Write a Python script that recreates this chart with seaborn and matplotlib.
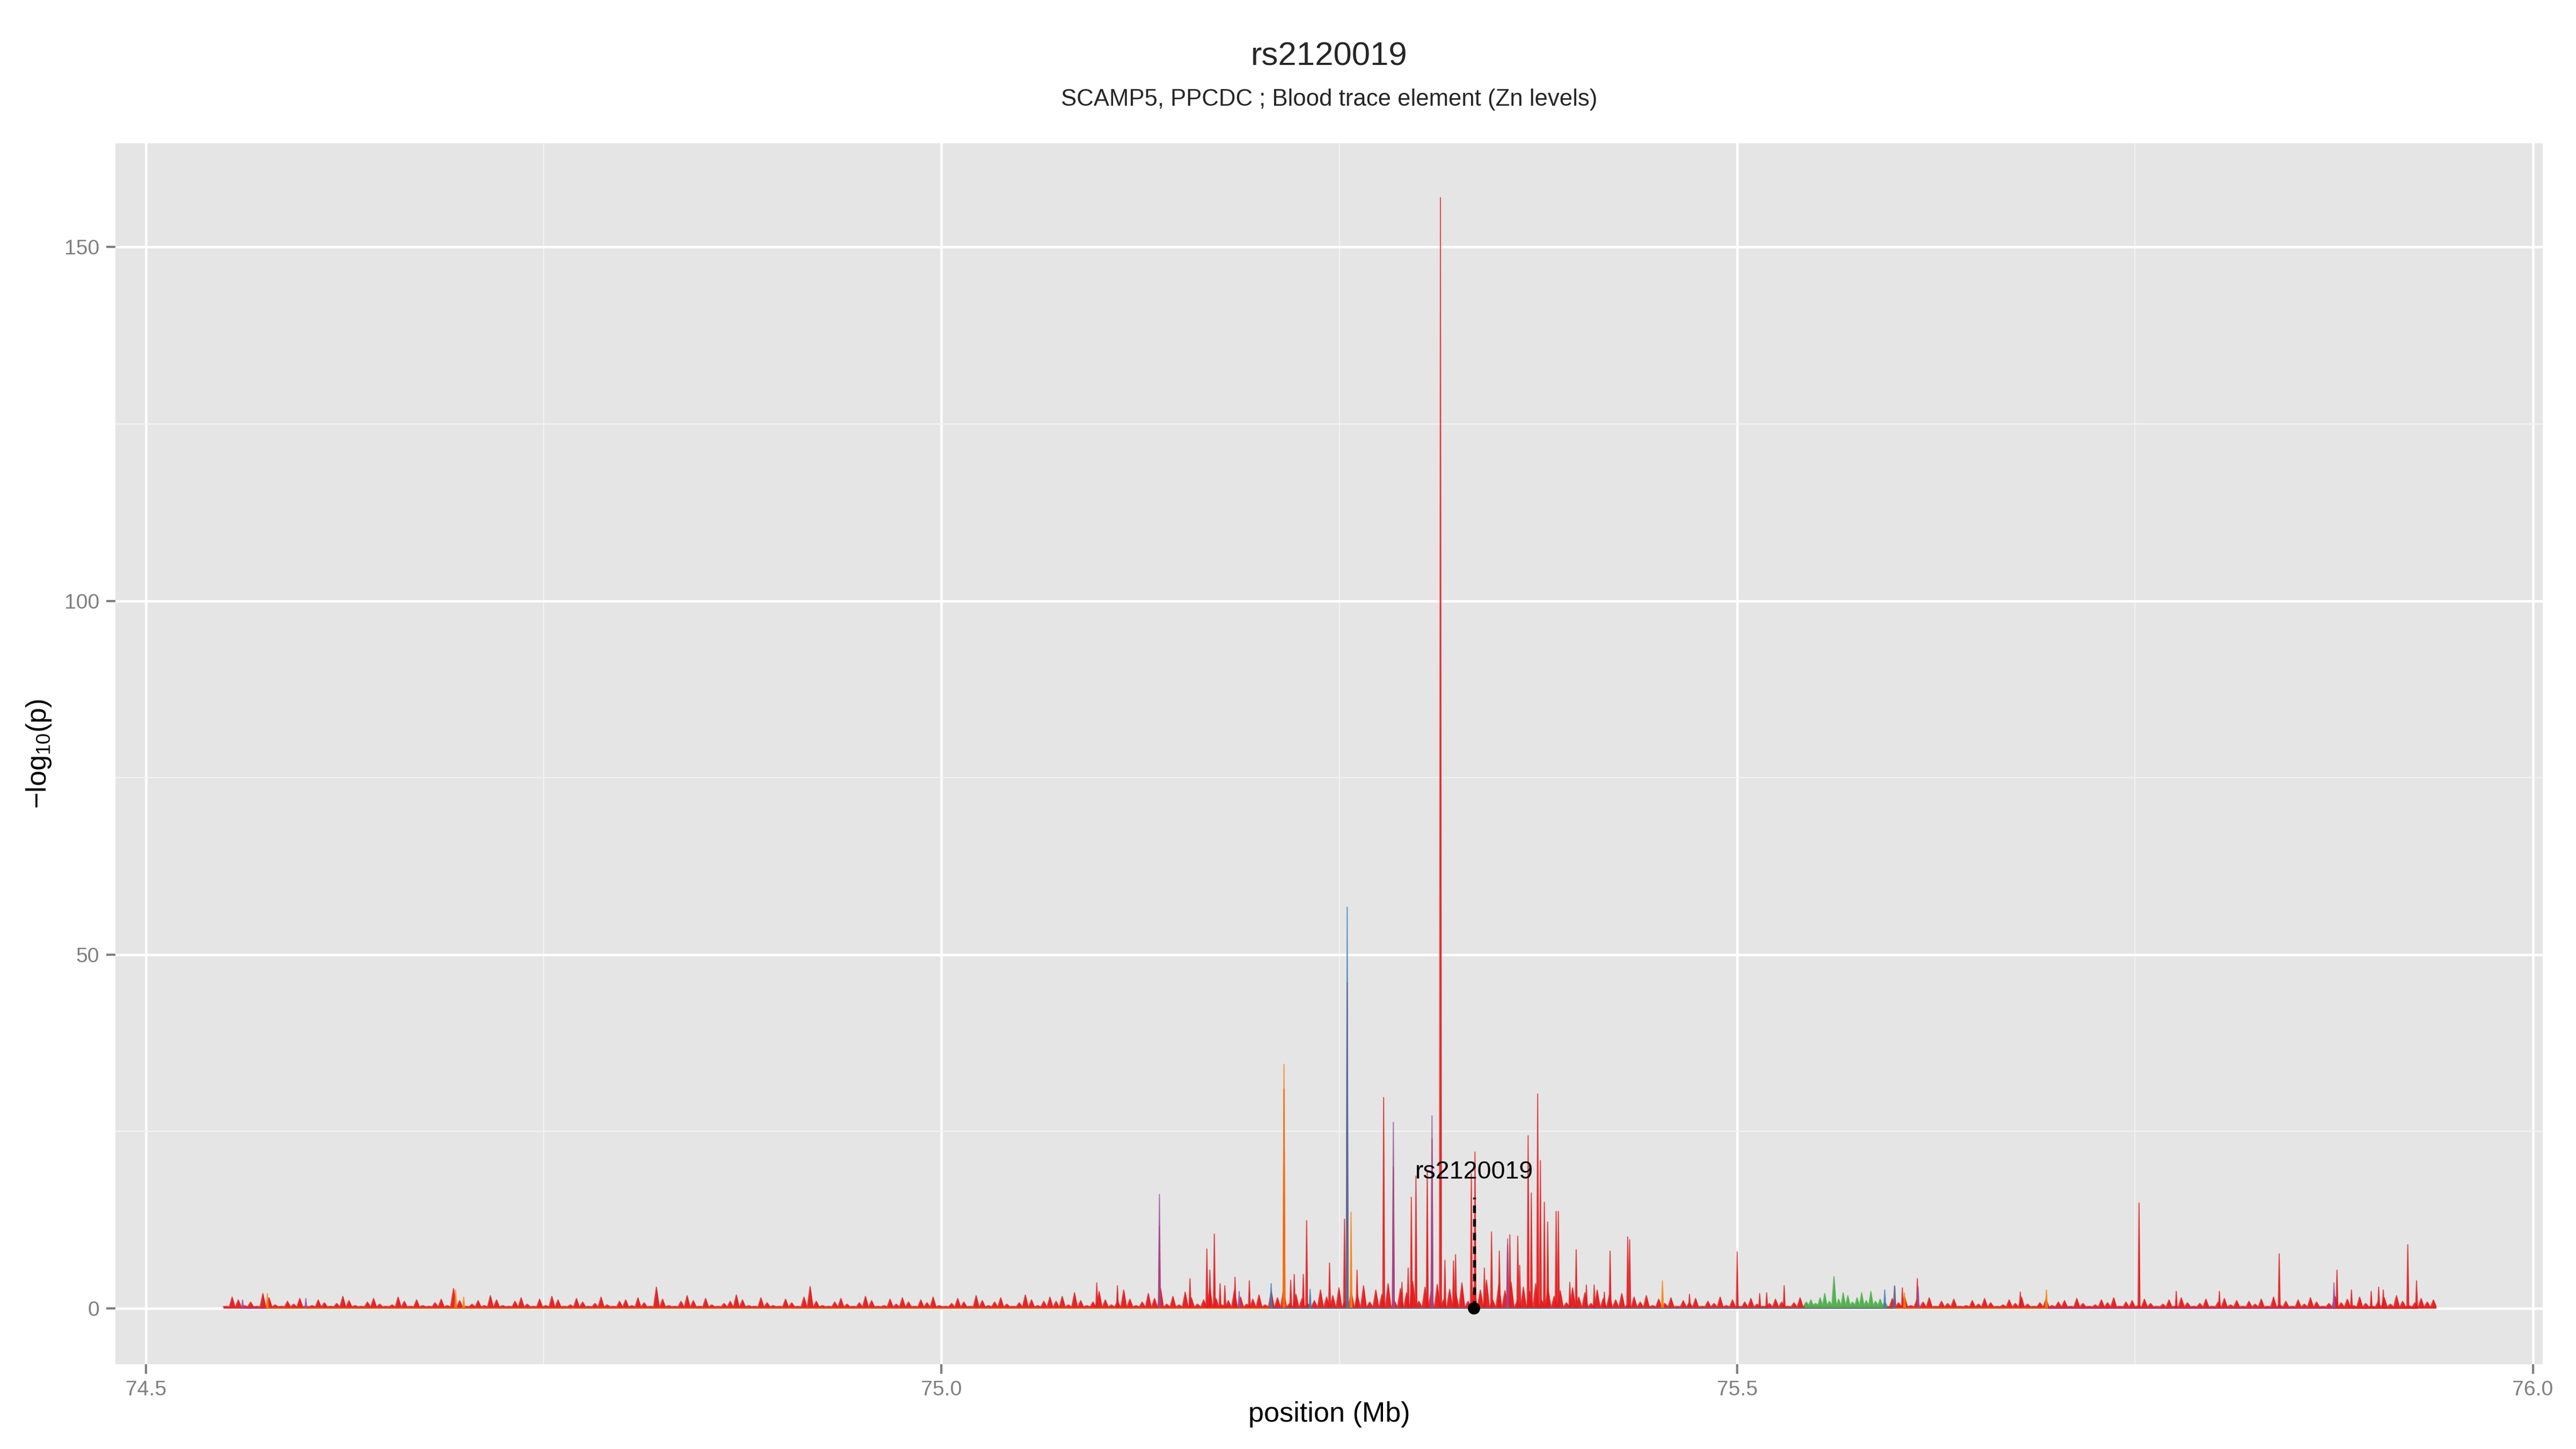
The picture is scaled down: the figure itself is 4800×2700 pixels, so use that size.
import numpy as np
import pandas as pd
import matplotlib
matplotlib.use("Agg")
import matplotlib.pyplot as plt
from matplotlib.ticker import MultipleLocator
import seaborn as sns

# ── data ─────────────────────────────────────────────────────────────────────

SNP = "rs2120019"
SNP_POS = 75.3346
SNP_LOGP = 15.7
SUBTITLE = "SCAMP5, PPCDC ; Blood trace element (Zn levels)"

# dense low-level signal of the red track (evenly spaced from start to end)
RED_BAND_START, RED_BAND_END = 74.5503, 75.9375
RED_BAND_FLOOR = 0.25
RED_BAND_LOGP = [
    0.3, 1.6, 1.2, 0.4, 0.9, 0.3, 2.1, 1.5, 0.5, 0.3, 1.0, 0.6, 1.4, 0.3, 0.4,
    1.2, 0.8, 0.3, 0.7, 1.7, 1.1, 0.4, 0.3, 0.9, 1.4, 0.6, 0.3, 0.5, 1.6, 1.0,
    0.3, 1.2, 0.4, 0.3, 0.8, 1.3, 0.4, 2.8, 1.1, 0.3, 0.6, 1.1, 0.4, 1.8, 1.2,
    0.4, 0.3, 1.0, 1.5, 0.6, 0.3, 1.3, 0.4, 1.7, 1.2, 0.3, 0.5, 1.4, 0.9, 0.3,
    0.7, 1.6, 0.5, 0.3, 1.0, 1.2, 0.4, 1.5, 0.8, 0.3, 3.0, 1.3, 0.4, 0.3, 1.0,
    1.8, 1.1, 0.3, 1.4, 0.5, 0.3, 0.7, 1.0, 1.9, 1.2, 0.4, 0.3, 1.5, 0.8, 0.4,
    0.3, 1.3, 0.8, 0.3, 1.6, 3.1, 1.0, 0.4, 0.3, 0.9, 1.4, 0.6, 0.3, 0.8, 1.7,
    1.1, 0.3, 0.4, 1.3, 0.6, 1.5, 0.9, 0.3, 1.2, 0.8, 1.6, 0.4, 0.3, 0.7, 1.4,
    0.9, 0.3, 1.8, 1.1, 0.4, 0.9, 1.5, 0.6, 0.3, 0.8, 1.9, 1.2, 0.4, 1.0, 1.6,
    1.0, 1.7, 0.5, 2.2, 1.1, 0.4, 0.9, 2.4, 1.2, 0.5, 1.0, 2.6, 1.3, 0.4, 0.9,
    2.1, 1.4, 2.8, 0.6, 1.7, 0.5, 2.3, 1.5, 0.6, 1.2, 2.9, 1.4, 0.5, 1.1, 2.5,
    1.6, 0.6, 1.3, 1.9, 0.5, 2.4, 1.5, 2.7, 0.7, 2.0, 1.4, 0.6, 1.1, 2.6, 1.6,
    1.8, 2.9, 1.0, 2.4, 1.9, 3.2, 0.9, 2.6, 2.0, 3.5, 1.1, 2.8, 2.2, 3.8, 1.0,
    3.0, 2.4, 3.4, 1.2, 2.7, 2.3, 3.6, 1.0, 3.1, 2.6, 4.0, 1.2, 3.3, 2.5, 3.7,
    1.0, 3.0, 2.4, 3.5, 1.1, 2.8, 1.7, 2.5, 0.8, 2.9, 1.6, 2.2, 0.7, 2.6, 1.4,
    1.9, 1.2, 2.1, 0.5, 1.6, 0.9, 1.8, 0.4, 1.3, 0.7, 1.5, 0.3, 1.1, 0.8, 1.4,
    0.3, 1.0, 0.7, 1.6, 0.4, 1.2, 0.3, 0.9, 1.4, 0.6, 0.3, 0.7, 1.3, 0.9, 0.3,
    0.8, 1.5, 0.6, 0.3, 0.3, 0.2, 0.3, 0.2, 0.3, 0.2, 0.3, 0.2, 0.3, 0.2, 0.3,
    0.3, 1.4, 0.8, 1.6, 0.4, 1.2, 0.9, 1.5, 0.3, 1.0, 0.7, 1.3, 0.3, 0.4, 1.1,
    0.6, 1.4, 0.8, 0.3, 0.5, 1.2, 0.7, 1.6, 0.6, 0.3, 0.8, 1.3, 0.4, 0.9, 1.1,
    0.3, 1.4, 0.7, 0.3, 0.5, 1.2, 0.8, 1.5, 0.3, 0.9, 1.1, 0.4, 1.3, 0.7, 0.3,
    0.6, 1.2, 0.3, 1.5, 0.8, 0.3, 0.7, 1.3, 0.3, 0.9, 1.4, 0.5, 1.1, 0.3, 1.0,
    0.6, 1.3, 0.3, 1.6, 0.5, 1.0, 0.3, 1.2, 0.6, 1.5, 0.9, 0.3, 0.7, 1.7, 0.8,
    1.3, 0.4, 1.6, 0.7, 0.3, 0.9, 1.5, 0.6, 1.8, 1.0, 0.4, 0.8, 1.4, 0.9, 1.2,
]

GREEN_BAND_START, GREEN_BAND_END = 75.5434, 75.5927
GREEN_BAND_FLOOR = 0.5
GREEN_BAND_LOGP = [0.9, 1.2, 0.7, 1.5, 2.1, 1.0, 4.5, 1.3, 2.2,
                   1.8, 0.9, 1.5, 2.2, 1.1, 2.4, 1.0, 1.3, 0.8]

RED_POS = [75.0975, 75.1105, 75.1369, 75.1561, 75.1667, 75.1686, 75.1714,
           75.1750, 75.1780, 75.1844, 75.1934, 75.2152, 75.2194, 75.2216,
           75.2273, 75.2294, 75.2438, 75.2532, 75.2549, 75.2611, 75.2778,
           75.2839, 75.2893, 75.2932, 75.2952, 75.2981, 75.3052, 75.3082,
           75.3135, 75.3163, 75.3217, 75.3230, 75.3329, 75.3352, 75.3411,
           75.3456, 75.3505, 75.3557, 75.3571, 75.3621, 75.3633, 75.3686,
           75.3706, 75.3746, 75.3763, 75.3788, 75.3809, 75.3862, 75.3876,
           75.3948, 75.3988, 75.4052, 75.4101, 75.4165, 75.4201, 75.4312,
           75.4324, 75.4700, 75.5000, 75.5141, 75.5185, 75.5295, 75.5990,
           75.6038, 75.6132, 75.6779, 75.7525, 75.7759, 75.8030, 75.8406,
           75.8769, 75.8860, 75.8984, 75.9031, 75.9060, 75.9214, 75.9269]
RED_LOGP = [3.6, 3.2, 11.6, 4.2, 8.4, 5.4, 10.5, 3.5, 3.2, 4.4, 3.9, 31.0,
            4.0, 4.8, 4.8, 12.4, 6.4, 12.6, 46.0, 5.4, 29.8, 20.0, 3.7, 5.7,
            15.7, 18.7, 19.4, 24.0, 157.0, 6.8, 6.7, 7.6, 19.0, 22.1, 5.7,
            10.8, 8.1, 9.0, 10.4, 10.2, 6.1, 24.4, 16.3, 30.3, 20.9, 15.0,
            12.2, 13.7, 13.7, 3.7, 8.3, 3.3, 3.3, 2.3, 8.1, 10.1, 9.7, 2.0,
            8.0, 2.1, 2.2, 3.2, 3.1, 2.9, 4.2, 2.3, 14.9, 2.4, 2.4, 7.7, 5.4,
            2.6, 2.4, 3.0, 2.6, 9.0, 3.9]

BLUE_POS = [75.2071, 75.2316, 75.2549, 75.5927, 75.5988]
BLUE_LOGP = [3.5, 2.7, 56.7, 2.6, 3.2]

PURPLE_POS = [74.5607, 74.6005, 75.1369, 75.1870, 75.2839, 75.3082, 75.3557,
              75.6137, 75.8750]
PURPLE_LOGP = [1.2, 1.4, 16.1, 2.4, 26.3, 27.2, 9.8, 3.0, 3.6]

ORANGE_POS = [74.5763, 74.6946, 74.6997, 75.2152, 75.2573, 75.4530, 75.6051,
              75.6943]
ORANGE_LOGP = [2.1, 2.6, 1.6, 34.5, 13.6, 3.9, 2.2, 2.6]

PALETTE = {"red": "#E41A1C", "blue": "#377EB8", "green": "#4DAF4A",
           "purple": "#984EA3", "orange": "#FF7F00"}

SPIKE_HALF_WIDTH = 0.0006
BAND_TOOTH = 0.45  # half base of a band tooth, as a share of the spacing


# ── helpers ──────────────────────────────────────────────────────────────────

def band_profile(start, end, vals, floor):
    xs = np.linspace(start, end, len(vals))
    d = BAND_TOOTH * (xs[1] - xs[0])
    fl = np.full_like(xs, floor)
    x = np.column_stack([xs - d, xs, xs + d]).ravel()
    y = np.column_stack([fl, np.asarray(vals, float), fl]).ravel()
    return x, y


def spike_profile(pos, vals):
    pos = np.asarray(pos, float)
    vals = np.asarray(vals, float)
    order = np.argsort(pos)
    pos, vals = pos[order], vals[order]
    zeros = np.zeros_like(pos)
    x = np.column_stack([pos - SPIKE_HALF_WIDTH, pos, pos + SPIKE_HALF_WIDTH]).ravel()
    y = np.column_stack([zeros, vals, zeros]).ravel()
    return x, y


# ── theme (ggplot-ish grey panel) ────────────────────────────────────────────

sns.set_theme(style="darkgrid", rc={
    "axes.facecolor": "#E5E5E5",
    "grid.color": "white",
    "axes.edgecolor": "#E5E5E5",
})
plt.rcParams["font.family"] = ["Liberation Sans", "DejaVu Sans"]
plt.rcParams["mathtext.default"] = "regular"

fig = plt.figure(figsize=(16, 9), dpi=300)
ax_left, ax_width = 0.04479, 0.94229
ax = fig.add_axes([ax_left, 0.05863, ax_width, 0.84259])
ax.set_axisbelow(True)

# low-level bands
for name, (start, end, vals, floor) in {
    "red": (RED_BAND_START, RED_BAND_END, RED_BAND_LOGP, RED_BAND_FLOOR),
    "green": (GREEN_BAND_START, GREEN_BAND_END, GREEN_BAND_LOGP, GREEN_BAND_FLOOR),
}.items():
    bx, by = band_profile(start, end, vals, floor)
    ax.fill_between(bx, 0, by, color=PALETTE[name], lw=0, alpha=0.95, zorder=2)
    ax.plot(bx, by, color=PALETTE[name], lw=0.5, alpha=0.75, zorder=2)

# spikes per track, drawn through seaborn
frames = []
for name, pos, vals in [("red", RED_POS, RED_LOGP),
                        ("purple", PURPLE_POS, PURPLE_LOGP),
                        ("orange", ORANGE_POS, ORANGE_LOGP),
                        ("blue", BLUE_POS, BLUE_LOGP)]:
    sx, sy = spike_profile(pos, vals)
    frames.append(pd.DataFrame({"pos": sx, "logp": sy, "track": name}))
    ax.fill_between(sx, 0, sy, color=PALETTE[name], lw=0, alpha=0.9, zorder=3)
spikes = pd.concat(frames, ignore_index=True)
sns.lineplot(data=spikes, x="pos", y="logp", hue="track", palette=PALETTE,
             estimator=None, sort=False, lw=0.5, alpha=0.75, legend=False,
             ax=ax, zorder=3)

# highlighted SNP
ax.plot([SNP_POS, SNP_POS], [0, SNP_LOGP], color="black", lw=1.3,
        ls=(0, (2.6, 2.1)), zorder=5)
sns.scatterplot(x=[SNP_POS], y=[0], color="black", s=30, edgecolor="none",
                ax=ax, zorder=6)
ax.text(SNP_POS, 17.6, SNP, ha="center", va="bottom", fontsize=11.2,
        color="black", zorder=6)

# axes
ax.set_xlim(74.4808, 76.0062)
ax.set_ylim(-7.87, 164.7)
ax.xaxis.set_minor_locator(MultipleLocator(0.25))
ax.yaxis.set_minor_locator(MultipleLocator(25))
ax.set_xticks([74.5, 75.0, 75.5, 76.0])
ax.set_xticklabels(["74.5", "75.0", "75.5", "76.0"])
ax.set_yticks([0, 50, 100, 150])
ax.set_yticklabels(["0", "50", "100", "150"])
ax.grid(which="major", color="white", lw=1.1)
ax.grid(which="minor", color="#F2F2F2", lw=0.55)
ax.tick_params(which="major", length=4.2, width=1.0, color="#7F7F7F",
               labelcolor="#7F7F7F", labelsize=9.4, pad=3.0,
               bottom=True, left=True)
ax.tick_params(which="minor", length=0)
for s in ax.spines.values():
    s.set_visible(False)

ax.set_xlabel("position (Mb)", fontsize=12.5, color="black")
ax.set_ylabel("\u2212log$_{10}$(p)", fontsize=12.5, color="black")
ax.xaxis.set_label_coords(0.5, -0.0414)
ax.xaxis.label.set_va("center")
ax.yaxis.set_label_coords(-0.0316, 0.5)
ax.yaxis.label.set_va("center")

# titles are centred on the panel, as ggplot does
title_x = ax_left + ax_width / 2
fig.text(title_x, 1 - 106 / 2700, SNP, ha="center", va="center", fontsize=14.8)
fig.text(title_x, 1 - 186 / 2700, SUBTITLE, ha="center", va="center", fontsize=10.5)

fig.savefig("out.png", dpi=300)
plt.close(fig)
